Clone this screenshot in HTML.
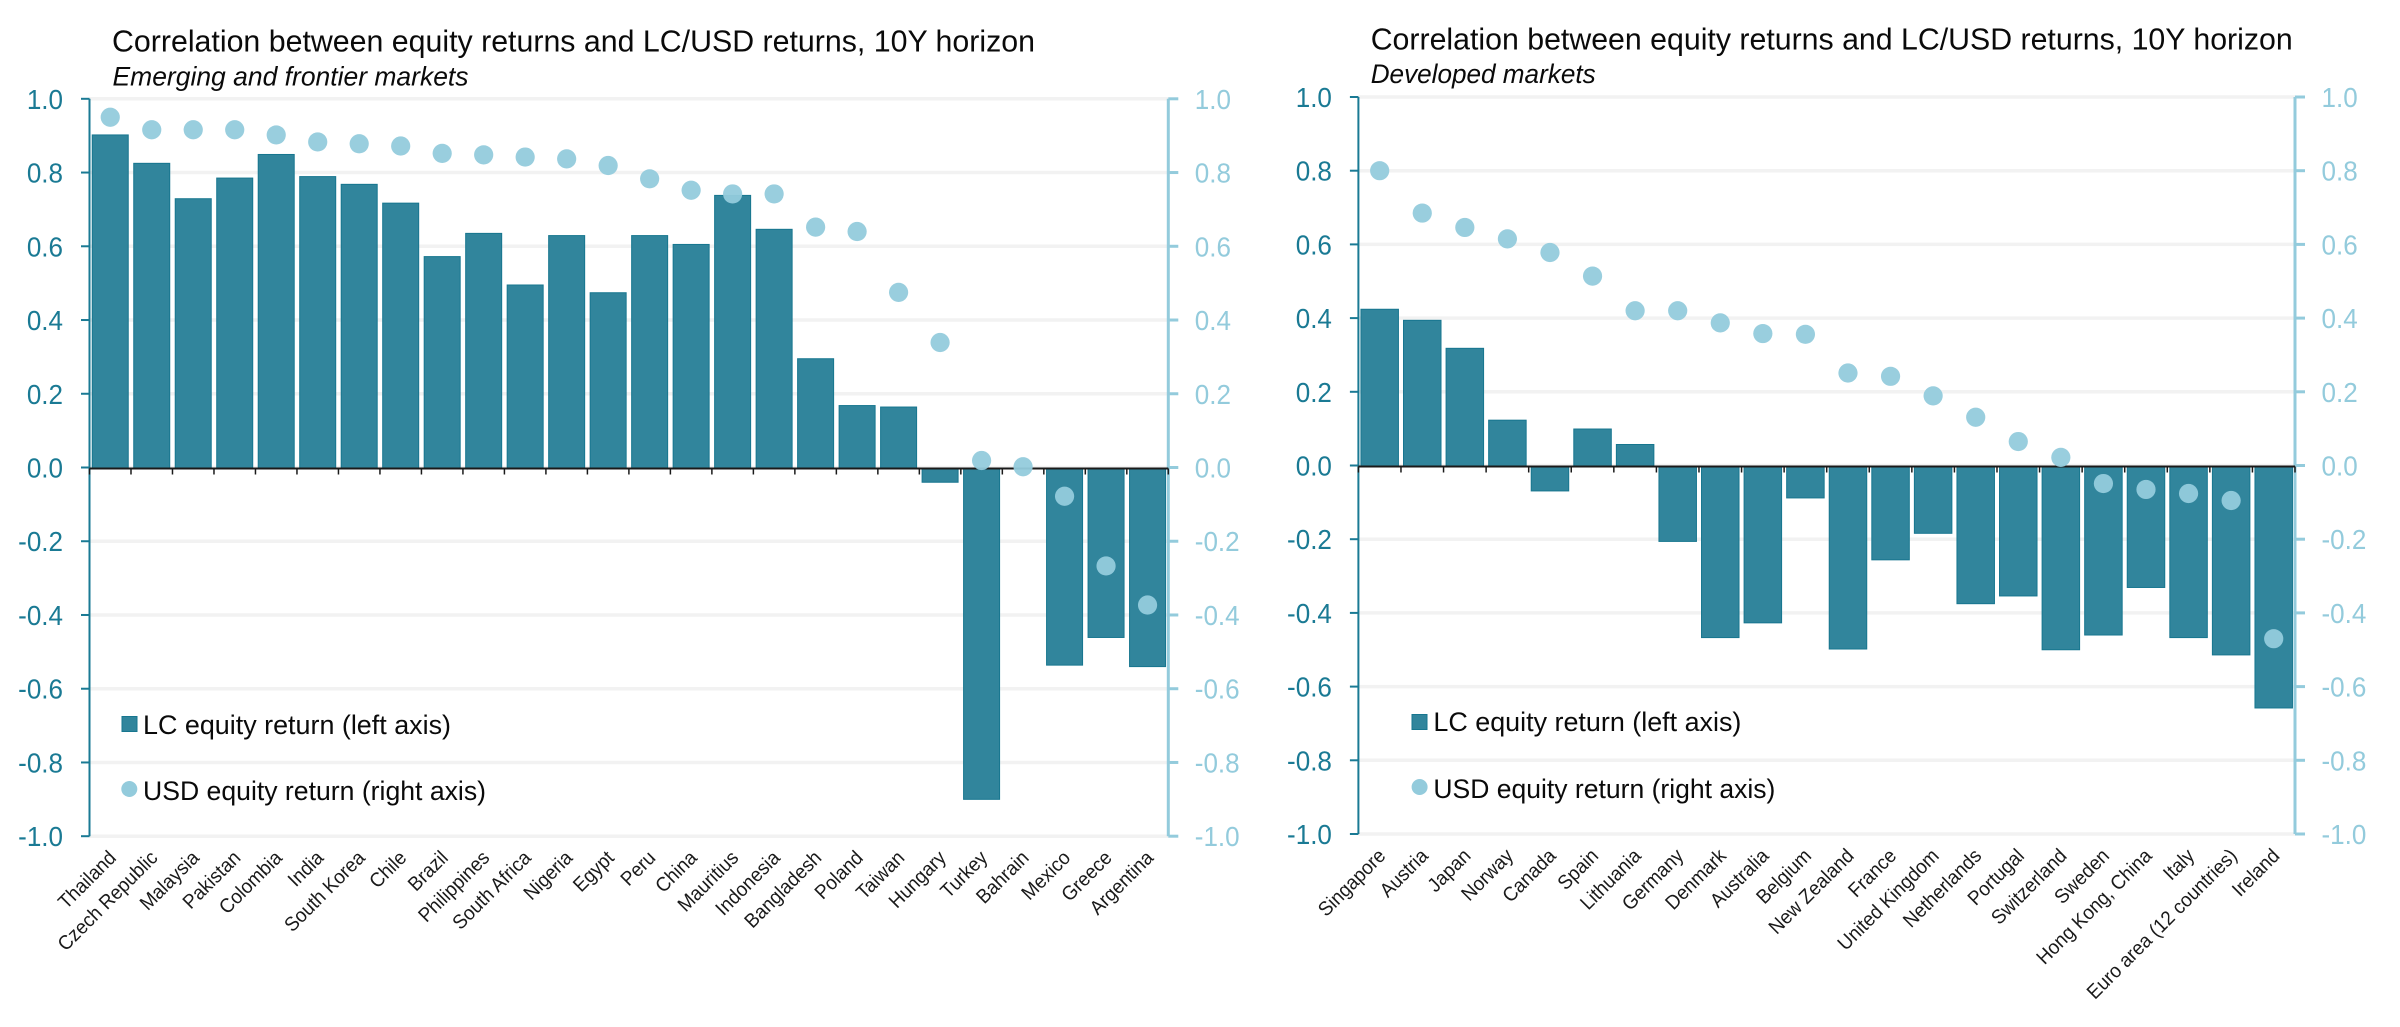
<!DOCTYPE html>
<html lang="en">
<head>
<meta charset="utf-8">
<title>Correlation between equity returns and LC/USD returns</title>
<style>
html,body{margin:0;padding:0;background:#fff;}
svg{display:block;font-family:"Liberation Sans",sans-serif;}
</style>
</head>
<body>
<svg id="chart" xmlns="http://www.w3.org/2000/svg" width="2400" height="1027" viewBox="0 0 2400 1027">
  <rect x="0" y="0" width="2400" height="1027" fill="#ffffff"/>
  <text x="112" y="51.7" font-size="31" fill="#0a0a0a" textLength="923" lengthAdjust="spacingAndGlyphs">Correlation between equity returns and LC/USD returns, 10Y horizon</text>
  <text x="112.5" y="85.5" font-size="27" font-style="italic" fill="#0a0a0a" textLength="356" lengthAdjust="spacingAndGlyphs">Emerging and frontier markets</text>
  <text x="1370.7" y="49.7" font-size="31" fill="#0a0a0a" textLength="922" lengthAdjust="spacingAndGlyphs">Correlation between equity returns and LC/USD returns, 10Y horizon</text>
  <text x="1370.7" y="83" font-size="27" font-style="italic" fill="#0a0a0a" textLength="225" lengthAdjust="spacingAndGlyphs">Developed markets</text>
  <g id="left-panel"></g>
  <g id="right-panel"></g>

  <g>
    <rect x="122" y="716.5" width="15" height="15" fill="#31859c" stroke="#17768f" stroke-width="1"/>
    <text x="143" y="734" font-size="27" fill="#0a0a0a" textLength="308" lengthAdjust="spacingAndGlyphs">LC equity return (left axis)</text>
    <circle cx="129.3" cy="789" r="8" fill="#93cbdc"/>
    <text x="143" y="800" font-size="27" fill="#0a0a0a" textLength="343" lengthAdjust="spacingAndGlyphs">USD equity return (right axis)</text>
  </g>
  <g>
    <rect x="1412" y="714.5" width="15" height="15" fill="#31859c" stroke="#17768f" stroke-width="1"/>
    <text x="1433.4" y="731" font-size="27" fill="#0a0a0a" textLength="308" lengthAdjust="spacingAndGlyphs">LC equity return (left axis)</text>
    <circle cx="1419.6" cy="787" r="8" fill="#93cbdc"/>
    <text x="1433.4" y="798" font-size="27" fill="#0a0a0a" textLength="342" lengthAdjust="spacingAndGlyphs">USD equity return (right axis)</text>
  </g>
</svg>
<script>
const tickValues = [1.0, 0.8, 0.6, 0.4, 0.2, 0.0, -0.2, -0.4, -0.6, -0.8, -1.0];
const tickLabels = ["1.0", "0.8", "0.6", "0.4", "0.2", "0.0", "-0.2", "-0.4", "-0.6", "-0.8", "-1.0"];

const emergingCategories = ["Thailand", "Czech Republic", "Malaysia", "Pakistan", "Colombia", "India", "South Korea", "Chile", "Brazil", "Philippines", "South Africa", "Nigeria", "Egypt", "Peru", "China", "Mauritius", "Indonesia", "Bangladesh", "Poland", "Taiwan", "Hungary", "Turkey", "Bahrain", "Mexico", "Greece", "Argentina"];
const emergingLcReturns = [0.902, 0.825, 0.729, 0.785, 0.849, 0.789, 0.768, 0.717, 0.572, 0.635, 0.495, 0.629, 0.474, 0.629, 0.605, 0.738, 0.646, 0.295, 0.168, 0.164, -0.04, -0.90, 0, -0.536, -0.461, -0.54];
const emergingUsdReturns = [0.95, 0.916, 0.916, 0.916, 0.902, 0.883, 0.878, 0.872, 0.852, 0.848, 0.842, 0.837, 0.819, 0.783, 0.752, 0.742, 0.742, 0.652, 0.64, 0.475, 0.339, 0.019, 0.002, -0.078, -0.267, -0.373];

const developedCategories = ["Singapore", "Austria", "Japan", "Norway", "Canada", "Spain", "Lithuania", "Germany", "Denmark", "Australia", "Belgium", "New Zealand", "France", "United Kingdom", "Netherlands", "Portugal", "Switzerland", "Sweden", "Hong Kong, China", "Italy", "Euro area (12 countries)", "Ireland"];
const developedLcReturns = [0.424, 0.394, 0.318, 0.123, -0.069, 0.099, 0.057, -0.206, -0.467, -0.427, -0.088, -0.498, -0.256, -0.184, -0.375, -0.354, -0.50, -0.46, -0.331, -0.467, -0.514, -0.658];
const developedUsdReturns = [0.80, 0.685, 0.646, 0.615, 0.578, 0.514, 0.42, 0.42, 0.387, 0.358, 0.356, 0.251, 0.242, 0.189, 0.131, 0.065, 0.022, -0.049, -0.065, -0.076, -0.095, -0.47];

const SVG_NS = "http://www.w3.org/2000/svg";

function make(parent, tag, attrs, text) {
  const el = document.createElementNS(SVG_NS, tag);
  for (const k in attrs) el.setAttribute(k, attrs[k]);
  if (text !== undefined) el.textContent = text;
  parent.appendChild(el);
  return el;
}

function drawPanel(root, categories, lcValues, usdValues, frame) {
  const count = categories.length;
  const step = (frame.right - frame.left) / count;
  const xEdge = i => frame.left + i * step;
  const xCenter = i => frame.left + (i + 0.5) * step;
  const yScale = v => frame.zero - v * frame.unit;

  tickValues.forEach((v, i) => {
    const y = yScale(v);
    const grid = make(root, "line", {x1: frame.left, x2: frame.right, y1: y, y2: y, stroke: "#f2f2f2", "stroke-width": 3.5});
    
    
  });

  categories.forEach((c, i) => {
    const y0 = yScale(0) + 1, y1 = yScale(lcValues[i]);
    if (lcValues[i] === 0) return;
    const bar = make(root, "rect", {
      x: xCenter(i) - frame.barWidth / 2,
      y: Math.min(y0, y1),
      width: frame.barWidth,
      height: Math.abs(y1 - y0),
      fill: "#31859c",
      stroke: "#17768f",
      "stroke-width": 1
    });
    
    
  });

  const leftAxis = make(root, "line", {x1: frame.left, x2: frame.left, y1: yScale(1), y2: yScale(-1), stroke: "#1a7a94", "stroke-width": 2});
  
  
  const rightAxis = make(root, "line", {x1: frame.right, x2: frame.right, y1: yScale(1), y2: yScale(-1), stroke: "#93cbdc", "stroke-width": 3});
  
  

  tickValues.forEach((v, i) => {
    const y = yScale(v);
    const lt = make(root, "line", {x1: frame.left - 8.5, x2: frame.left, y1: y, y2: y, stroke: "#1a7a94", "stroke-width": 2});
    
    
    const rt = make(root, "line", {x1: frame.right, x2: frame.right + 10, y1: y, y2: y, stroke: "#93cbdc", "stroke-width": 3});
    
    
    const ll = make(root, "text", {transform: "translate(" + (frame.left - 26.5) + "," + (y + 10) + ") scale(0.93,1)", "text-anchor": "end", "font-size": 28, fill: "#1a7a94"}, tickLabels[i]);
    
    
    const rl = make(root, "text", {transform: "translate(" + (frame.right + 26.5) + "," + (y + 10) + ") scale(0.93,1)", "font-size": 28, fill: "#93cbdc"}, tickLabels[i]);
    
    
  });

  const zeroY = yScale(0) + 1;
  const zero = make(root, "line", {x1: frame.left, x2: frame.right, y1: zeroY, y2: zeroY, stroke: "#1a1a1a", "stroke-width": 2});
  
  
  for (let i = 0; i <= count; i++) {
    const t = make(root, "line", {x1: xEdge(i), x2: xEdge(i), y1: zeroY, y2: zeroY + 6, stroke: "#1a1a1a", "stroke-width": 1.5});
    
    
  }

  categories.forEach((c, i) => {
    const dot = make(root, "circle", {cx: xCenter(i), cy: yScale(usdValues[i]), r: 9.6, fill: "#93cbdc", "fill-opacity": 0.95});
    
    
    const ax = xCenter(i) + 7, ay = frame.labelY;
    const lab = make(root, "text", {
      transform: "translate(" + ax + "," + ay + ") rotate(-45) scale(0.94,1)",
      "text-anchor": "end",
      "font-size": 20,
      fill: "#1a1a1a"
    }, c);
    
    
  });
}

drawPanel(document.getElementById("left-panel"), emergingCategories, emergingLcReturns, emergingUsdReturns,
  {left: 89.5, right: 1168.3, zero: 467.5, unit: 368.7, barWidth: 36, labelY: 859});
drawPanel(document.getElementById("right-panel"), developedCategories, developedLcReturns, developedUsdReturns,
  {left: 1358.4, right: 2295, zero: 465.5, unit: 368.5, barWidth: 37.5, labelY: 857});
</script>
</body>
</html>
